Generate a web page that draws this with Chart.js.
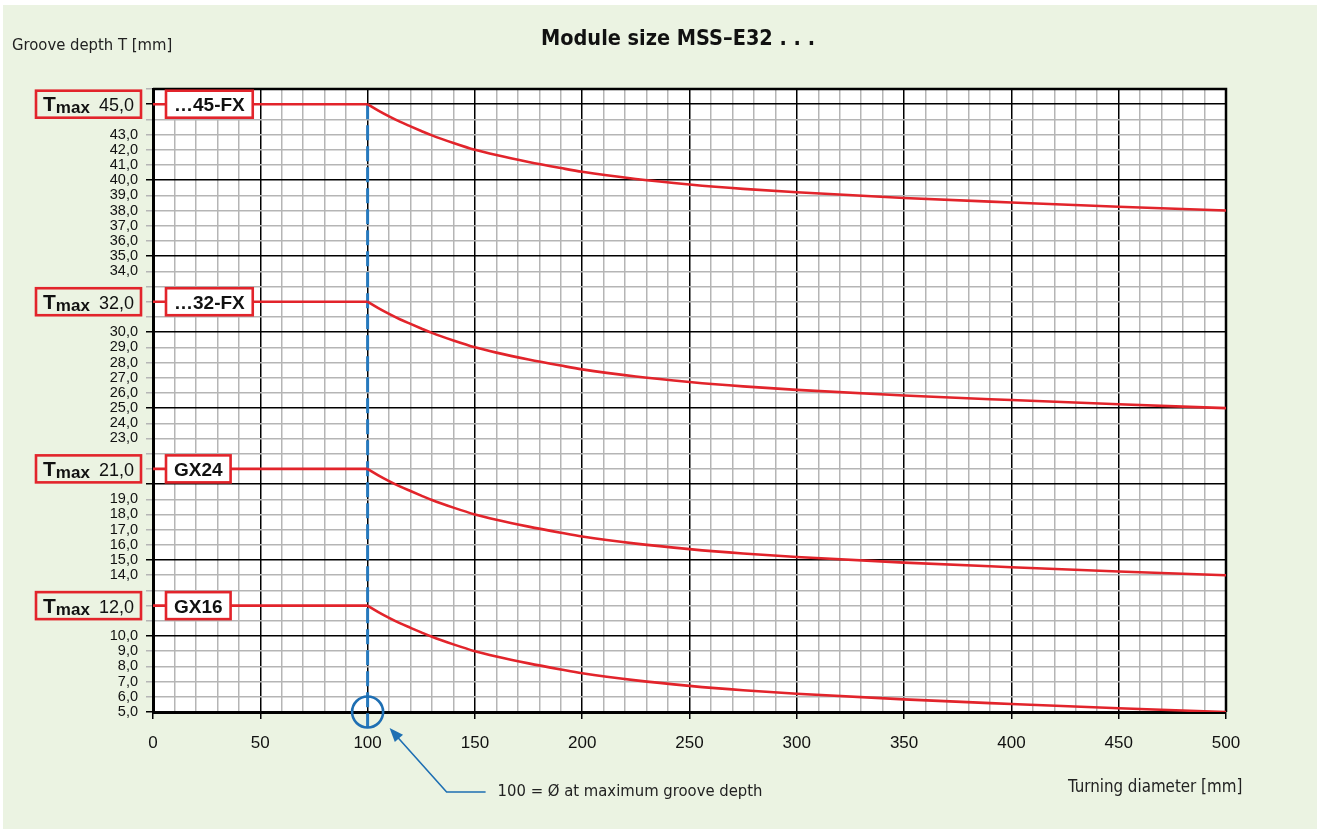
<!DOCTYPE html>
<html>
<head>
<meta charset="utf-8">
<script src="https://cdn.jsdelivr.net/npm/chart.js@4"></script>
<style>
    body { margin: 0; background: #ffffff; }
    #wrap { width: 1317px; height: 829px; }
</style>
</head>
<body>
<div id="wrap"><canvas id="chart-groove" width="1317" height="829"></canvas></div>
<script>
// values
const diameters = [100, 105, 110, 115, 120, 125, 130, 140, 150, 160, 175, 190, 200, 225, 250, 275, 300, 350, 400, 450, 500];
const depth45FX = [45, 44.58, 44.2, 43.85, 43.54, 43.24, 42.95, 42.45, 42.0, 41.65, 41.2, 40.8, 40.55, 40.08, 39.72, 39.43, 39.2, 38.83, 38.53, 38.25, 38.0];
const depth32FX = [32, 31.58, 31.2, 30.85, 30.54, 30.24, 29.95, 29.45, 29.0, 28.65, 28.2, 27.8, 27.55, 27.08, 26.72, 26.43, 26.2, 25.83, 25.53, 25.25, 25.0];
const depthGX24 = [21, 20.58, 20.2, 19.85, 19.54, 19.24, 18.95, 18.45, 18.0, 17.65, 17.2, 16.8, 16.55, 16.08, 15.72, 15.43, 15.2, 14.83, 14.53, 14.25, 14.0];
const depthGX16 = [12, 11.58, 11.2, 10.85, 10.54, 10.24, 9.95, 9.45, 9.0, 8.65, 8.2, 7.8, 7.55, 7.08, 6.72, 6.43, 6.2, 5.83, 5.53, 5.25, 5.0];

const seriesNames = ['…45-FX', '…32-FX', 'GX24', 'GX16'];
const seriesValues = [depth45FX, depth32FX, depthGX24, depthGX16];
const tmaxValues = [45, 32, 21, 12];
const yTickHidden = [11, 13, 20, 22, 31, 33, 44, 46];
const flatStart = 0;
const diaMax = 100;

const RED = '#e2242b';
const BLUE = '#1e6fb3';
const GREEN_BG = '#ebf3e2';

const datasets = [];
seriesValues.forEach((vals, i) => {
    // horizontal part up to the max groove diameter
    datasets.push({
        label: seriesNames[i] + ' flat',
        data: [{ x: flatStart, y: tmaxValues[i] }, { x: diaMax, y: tmaxValues[i] }],
        borderColor: RED,
        borderWidth: 2.6,
        pointRadius: 0,
        tension: 0
    });
    datasets.push({
        label: seriesNames[i],
        data: diameters.map((d, j) => ({ x: d, y: vals[j] })),
        borderColor: RED,
        borderWidth: 2.6,
        pointRadius: 0,
        cubicInterpolationMode: 'monotone'
    });
});

const decorPlugin = {
    id: 'decor',
    beforeDraw(chart) {
        const { ctx, chartArea: a } = chart;
        ctx.save();
        ctx.fillStyle = '#ffffff';
        ctx.fillRect(0, 0, chart.width, chart.height);
        ctx.fillStyle = GREEN_BG;
        ctx.fillRect(3, 5, chart.width - 3, chart.height - 5);
        ctx.fillStyle = '#ffffff';
        ctx.fillRect(a.left, a.top, a.right - a.left, a.bottom - a.top);
        ctx.restore();
    },
    beforeDatasetsDraw(chart) {
        const { ctx, chartArea: a, scales } = chart;
        ctx.save();
        // frame (top + right)
        ctx.strokeStyle = '#000';
        ctx.lineWidth = 2.5;
        ctx.beginPath();
        ctx.moveTo(a.left, a.top);
        ctx.lineTo(a.right, a.top);
        ctx.lineTo(a.right, a.bottom);
        ctx.stroke();

        // blue dashed guide at max groove diameter
        const gx = scales.x.getPixelForValue(diaMax);
        const cy = scales.y.getPixelForValue(scales.y.min);
        ctx.strokeStyle = '#2679bd';
        ctx.lineWidth = 3;
        ctx.setLineDash([15, 6]);
        ctx.beginPath();
        ctx.moveTo(gx, scales.y.getPixelForValue(tmaxValues[0]));
        ctx.lineTo(gx, cy + 15);
        ctx.stroke();
        ctx.restore();
    },
    afterDatasetsDraw(chart) {
        const { ctx, chartArea: a, scales } = chart;
        ctx.save();

        // label boxes
        tmaxValues.forEach((t, i) => {
            const y = scales.y.getPixelForValue(t);
            const h = 27;

            // Tmax box left of the axis
            const bx0 = 36, bx1 = a.left - 12;
            ctx.fillStyle = GREEN_BG;
            ctx.fillRect(bx0, y - h / 2, bx1 - bx0, h);
            ctx.strokeStyle = RED;
            ctx.lineWidth = 2.6;
            ctx.strokeRect(bx0, y - h / 2, bx1 - bx0, h);
            ctx.fillStyle = '#111';
            ctx.textBaseline = 'alphabetic';
            ctx.textAlign = 'left';
            ctx.font = 'bold 21px "Liberation Sans", Arial, sans-serif';
            ctx.fillText('T', bx0 + 7, y + 7);
            const tw = ctx.measureText('T').width;
            ctx.font = 'bold 17px "Liberation Sans", Arial, sans-serif';
            ctx.fillText('max', bx0 + 7 + tw, y + 9);
            ctx.font = '18px "Liberation Sans", Arial, sans-serif';
            ctx.textAlign = 'right';
            ctx.fillText(t.toFixed(1).replace('.', ','), bx1 - 7, y + 7);

            // product box inside the plot
            ctx.font = 'bold 19px "Liberation Sans", Arial, sans-serif';
            const nw = ctx.measureText(seriesNames[i]).width;
            const px0 = a.left + 13, px1 = px0 + nw + 16;
            ctx.fillStyle = '#ffffff';
            ctx.fillRect(px0, y - h / 2, px1 - px0, h);
            ctx.strokeStyle = RED;
            ctx.strokeRect(px0, y - h / 2, px1 - px0, h);
            ctx.fillStyle = '#111';
            ctx.textAlign = 'left';
            ctx.fillText(seriesNames[i], px0 + 8, y + 7);
        });

        // circle + arrow note
        const cx = scales.x.getPixelForValue(diaMax);
        const cy = scales.y.getPixelForValue(scales.y.min);
        ctx.strokeStyle = BLUE;
        ctx.lineWidth = 2.6;
        ctx.beginPath();
        ctx.arc(cx, cy, 15.5, 0, Math.PI * 2);
        ctx.stroke();

        const tip = { x: cx + 22, y: cy + 16 };
        const elbow = { x: cx + 79, y: cy + 80 };
        ctx.lineWidth = 1.6;
        ctx.beginPath();
        ctx.moveTo(cx + 118, elbow.y);
        ctx.lineTo(elbow.x, elbow.y);
        ctx.lineTo(tip.x + 6, tip.y + 7);
        ctx.stroke();
        const ang = Math.atan2(tip.y - elbow.y, tip.x - elbow.x);
        ctx.fillStyle = BLUE;
        ctx.beginPath();
        ctx.moveTo(tip.x, tip.y);
        ctx.lineTo(tip.x - 14 * Math.cos(ang) + 5.5 * Math.sin(ang), tip.y - 14 * Math.sin(ang) - 5.5 * Math.cos(ang));
        ctx.lineTo(tip.x - 14 * Math.cos(ang) - 5.5 * Math.sin(ang), tip.y - 14 * Math.sin(ang) + 5.5 * Math.cos(ang));
        ctx.closePath();
        ctx.fill();

        // texts
        ctx.fillStyle = '#222';
        ctx.textBaseline = 'middle';
        ctx.textAlign = 'left';
        ctx.font = '16.5px "DejaVu Sans Condensed", "DejaVu Sans", sans-serif';
        ctx.fillText('100 = Ø at maximum groove depth', cx + 130, elbow.y);
        ctx.fillText('Groove depth T [mm]', 12, 46);
        ctx.font = '16.8px "DejaVu Sans Condensed", "DejaVu Sans", sans-serif';
        ctx.fillText('Turning diameter [mm]', 1068, 788);
        ctx.fillStyle = '#111';
        ctx.textAlign = 'center';
        ctx.font = 'bold 21.5px "DejaVu Sans Condensed", "DejaVu Sans", sans-serif';
        ctx.fillText('Module size MSS–E32 . . .', 678, 39);
        ctx.restore();
    }
};

const ctx = document.getElementById('chart-groove').getContext('2d');
new Chart(ctx, {
    type: 'line',
    data: { datasets },
    options: {
        responsive: false,
        animation: false,
        layout: { padding: { top: 89, right: 91, bottom: 0, left: 0 } },
        plugins: { legend: { display: false }, tooltip: { enabled: false } },
        scales: {
            x: {
                type: 'linear',
                min: 0,
                max: 500,
                afterFit: s => { s.height = 117; },
                border: { color: '#000', width: 3 },
                grid: {
                    color: c => (c.tick && c.tick.value % 50 === 0) ? '#000' : '#b5b5b5',
                    lineWidth: 1.5,
                    tickLength: 7,
                    tickColor: c => (c.tick && c.tick.value % 50 === 0) ? '#000' : 'rgba(0,0,0,0)',
                    tickWidth: 1.5
                },
                ticks: {
                    stepSize: 10,
                    autoSkip: false,
                    maxRotation: 0,
                    padding: 14,
                    color: '#111',
                    font: { family: '"Liberation Sans", Arial, sans-serif', size: 17 },
                    callback: v => v % 50 === 0 ? String(v) : ''
                }
            },
            y: {
                type: 'linear',
                min: 5,
                max: 46,
                afterFit: s => { s.width = 153; },
                border: { color: '#000', width: 3 },
                grid: {
                    color: c => (c.tick && c.tick.value % 5 === 0) ? '#000' : '#b5b5b5',
                    lineWidth: 1.5,
                    tickLength: 7,
                    tickColor: c => (c.tick && c.tick.value % 5 === 0) ? '#000' : '#b5b5b5',
                    tickWidth: 1.5
                },
                ticks: {
                    stepSize: 1,
                    autoSkip: false,
                    padding: 8,
                    color: '#111',
                    font: { family: '"Liberation Sans", Arial, sans-serif', size: 14.5 },
                    callback: v => yTickHidden.includes(v) ? '' : v.toFixed(1).replace('.', ',')
                }
            }
        }
    },
    plugins: [decorPlugin]
});
</script>
</body>
</html>
